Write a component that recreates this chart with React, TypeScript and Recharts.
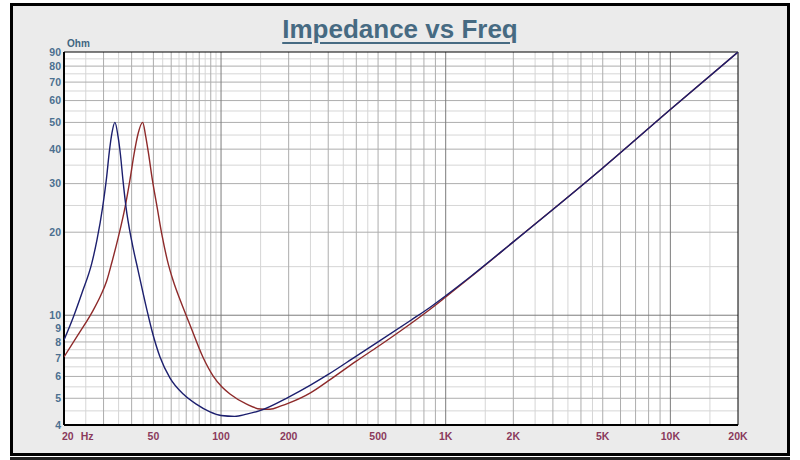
import { LineChart, Line, XAxis, YAxis, ReferenceLine, ReferenceArea } from 'recharts'

// frequency (Hz) / impedance (Ohm)
const blueFreq = [20, 21.93, 24.04, 26.58, 28.04, 29.72, 30.92, 31.81, 32.7, 33.7, 34.78, 35.68, 36.6, 37.76, 39.94, 42.7, 46.8, 49.3, 53.5, 59.3, 67.9, 77.9, 89.3, 100, 115, 130, 149, 200, 250, 300, 400, 500, 700, 850, 1000, 1300, 2000, 5000, 10000, 20000]
const blueOhm = [8.13, 9.77, 12.04, 15.42, 18.74, 24.67, 31.4, 39.0, 45.8, 50, 44.6, 38.1, 30.9, 24.67, 18.74, 14.58, 10.44, 8.77, 7.06, 5.92, 5.18, 4.75, 4.46, 4.33, 4.3, 4.38, 4.51, 5.05, 5.58, 6.1, 7.11, 8.0, 9.59, 10.67, 11.77, 13.88, 18.45, 34.2, 55.7, 90]

const redFreq = [20, 23.08, 27.0, 29.2, 30.97, 32.7, 34.9, 37.4, 39.3, 41.0, 42.7, 44.8, 46.1, 47.46, 49.5, 52.0, 54.6, 57.65, 61.3, 66.3, 72.76, 83.4, 92.3, 101, 109.6, 130, 150, 165, 185, 200, 250, 300, 400, 500, 700, 850, 1000, 1300, 2000, 5000, 10000, 20000]
const redOhm = [7.06, 8.48, 10.44, 11.84, 13.3, 15.6, 19.2, 24.67, 30.9, 38.4, 45.4, 50, 45.0, 39.0, 30.9, 24.5, 19.5, 15.85, 13.3, 11.16, 9.22, 7.0, 6.02, 5.49, 5.18, 4.76, 4.57, 4.56, 4.69, 4.8, 5.23, 5.78, 6.82, 7.7, 9.33, 10.49, 11.64, 13.81, 18.45, 34.2, 55.7, 90]

const xTicks = [20, 50, 100, 200, 500, 1000, 2000, 5000, 10000, 20000]
const xTickLabels = ['20', '50', '100', '200', '500', '1K', '2K', '5K', '10K', '20K']
const yTicks = [4, 5, 6, 7, 8, 9, 10, 20, 30, 40, 50, 60, 70, 80, 90]

// grid lines
const xGridDecade = [100, 1000, 10000]
const xGridMajor = [30, 40, 50, 60, 70, 80, 90, 200, 300, 400, 500, 600, 700, 800, 900, 2000, 3000, 4000, 5000, 6000, 7000, 8000, 9000]
const xGridMinor = [25, 35, 45, 55, 65, 75, 85, 95, 150, 250, 350, 450, 1500, 2500, 3500, 4500, 15000]
const yGridDecade = [10]
const yGridMajor = [5, 6, 7, 8, 9, 20, 30, 40, 50, 60, 70, 80]
const yGridMinor = [4.5, 5.5, 6.5, 7.5, 8.5, 9.5, 15, 25, 35, 45, 55, 65, 75, 85]

const blueData = blueFreq.map((f, i) => ({ f, z: blueOhm[i] }))
const redData = redFreq.map((f, i) => ({ f, z: redOhm[i] }))

const FONT = '"Liberation Sans", Arial, sans-serif'

function XTick({ x, y, payload }: any) {
  const idx = xTicks.indexOf(payload.value)
  const label = xTickLabels[idx] ?? ''
  const common = { fill: '#8a3a5c', fontSize: 10.5, fontWeight: 700, fontFamily: FONT }
  if (payload.value === 20) {
    return (
      <text x={x - 2} y={y + 9} dy="0.35em" textAnchor="start" {...common}>
        20<tspan dx={7}>Hz</tspan>
      </text>
    )
  }
  return (
    <text x={x} y={y + 9} dy="0.35em" textAnchor="middle" {...common}>{label}</text>
  )
}

function YTick({ x, y, payload }: any) {
  return (
    <text x={x} y={y} dy="0.35em" textAnchor="end" fill="#4c7090" fontSize={10.5} fontWeight={700} fontFamily={FONT}>
      {payload.value}
    </text>
  )
}

export default function App() {
  return (
    <div style={{ position: 'absolute', left: 0, top: 0, width: 800, height: 460, background: '#fff', overflow: 'hidden' }}>
      <div style={{ position: 'absolute', left: 10, top: 3, width: 780, height: 453, boxSizing: 'border-box', border: '3px solid #000', background: '#ebebeb' }} />
      <div style={{ position: 'absolute', left: 10, top: 457, width: 780, height: 3, background: '#222' }} />
      <div style={{
        position: 'absolute', left: 0, top: 14, width: 800, textAlign: 'center',
        fontFamily: FONT, fontWeight: 700, fontSize: 26, color: '#466a82',
        textDecoration: 'underline', textDecorationThickness: 2, textUnderlineOffset: 4,
      }}>
        Impedance vs Freq
      </div>
      <div style={{ position: 'absolute', left: 67, top: 38, fontFamily: FONT, fontWeight: 700, fontSize: 10, color: '#3f6580' }}>
        Ohm
      </div>
      <div style={{ position: 'absolute', left: 697, top: 398, fontFamily: '"DejaVu Serif", serif', fontStyle: 'italic', fontSize: 16, color: '#111', letterSpacing: 1 }}>
        LMS
      </div>
      <div style={{ position: 'absolute', left: 0, top: 0 }}>
        <LineChart width={800} height={460} margin={{ top: 52, right: 62, bottom: 5, left: 10 }}>
          <XAxis
            dataKey="f"
            type="number"
            scale="log"
            domain={[20, 20000]}
            ticks={xTicks}
            interval={0}
            allowDataOverflow
            height={30}
            tickLine={false}
            axisLine={false}
            tickSize={0}
            tick={<XTick />}
          />
          <YAxis
            dataKey="z"
            type="number"
            scale="log"
            domain={[4, 90]}
            ticks={yTicks}
            interval={0}
            allowDataOverflow
            width={54}
            tickLine={false}
            axisLine={false}
            tickSize={0}
            tickMargin={3}
            tick={<YTick />}
          />
          <ReferenceArea x1={20} x2={20000} y1={4} y2={90} fill="#ffffff" fillOpacity={1} stroke="none" zIndex={-90} />
          {xGridMinor.map(v => (
            <ReferenceLine key={`xm${v}`} x={v} stroke="#d6d6d6" strokeWidth={1} zIndex={-80} />
          ))}
          {yGridMinor.map(v => (
            <ReferenceLine key={`ym${v}`} y={v} stroke="#d6d6d6" strokeWidth={1} zIndex={-80} />
          ))}
          {xGridMajor.map(v => (
            <ReferenceLine key={`xM${v}`} x={v} stroke="#adadad" strokeWidth={1} zIndex={-70} />
          ))}
          {yGridMajor.map(v => (
            <ReferenceLine key={`yM${v}`} y={v} stroke="#adadad" strokeWidth={1} zIndex={-70} />
          ))}
          {xGridDecade.map(v => (
            <ReferenceLine key={`xD${v}`} x={v} stroke="#7c7c7c" strokeWidth={1} zIndex={-60} />
          ))}
          {yGridDecade.map(v => (
            <ReferenceLine key={`yD${v}`} y={v} stroke="#7c7c7c" strokeWidth={1} zIndex={-60} />
          ))}
          <ReferenceArea x1={20} x2={20000} y1={4} y2={90} fill="none" stroke="#000" strokeWidth={1} zIndex={-50} />
          <ReferenceLine x={20} stroke="#000" strokeWidth={2} zIndex={-50} />
          <ReferenceLine y={4} stroke="#000" strokeWidth={2} zIndex={-50} />
          <Line data={redData} dataKey="z" type="monotone" stroke="#8e2a2a" strokeWidth={1.4} dot={false} isAnimationActive={false} />
          <Line data={blueData} dataKey="z" type="monotone" stroke="#1c1f6e" strokeWidth={1.4} dot={false} isAnimationActive={false} />
        </LineChart>
      </div>
    </div>
  )
}
